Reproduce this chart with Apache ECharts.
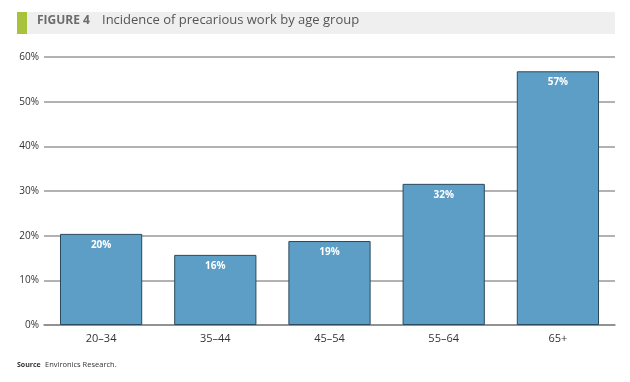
<!DOCTYPE html>
<html><head><meta charset="utf-8">
<script src="https://cdn.jsdelivr.net/npm/echarts@6/dist/echarts.min.js"></script>
<style>html,body{margin:0;padding:0;background:#fff}#c{width:630px;height:382px}</style>
</head><body><div id="c"></div>
<script>
var categories = ['20–34', '35–44', '45–54', '55–64', '65+'];
var values = [20.4, 15.7, 18.8, 31.6, 56.8];
var barLabels = ['20%', '16%', '19%', '32%', '57%'];
var yTicks = [0, 10, 20, 30, 40, 50, 60];

var F = '"Open Sans",sans-serif';
var chart = echarts.init(document.getElementById('c'));
chart.setOption({
  animation: false,
  grid: { left: 44, right: 15, top: 57, bottom: 57 },
  graphic: [
    { type: 'rect', shape: { x: 17, y: 12, width: 598, height: 22 }, style: { fill: '#efefef' } },
    { type: 'rect', shape: { x: 17, y: 12, width: 10, height: 22 }, style: { fill: '#a8c23c' } },
    { type: 'text', left: 37, top: 15, style: { text: 'FIGURE 4', font: 'bold 12px ' + F, fill: '#6b6b6b' } },
    { type: 'text', left: 102, top: 14, style: { text: 'Incidence of precarious work by age group', font: '13px ' + F, fill: '#555' } },
    { type: 'text', left: 17, top: 361, style: { text: 'Source', font: 'bold 7px ' + F, fill: '#333' } },
    { type: 'text', left: 45, top: 361, style: { text: 'Environics Research.', font: '7.5px ' + F, fill: '#333' } }
  ],
  xAxis: {
    type: 'category', data: categories,
    axisLine: { show: true, lineStyle: { color: '#888', width: 1.5 } },
    axisTick: { show: false },
    axisLabel: { color: '#333', fontSize: 11, fontFamily: F, margin: 8 }
  },
  yAxis: {
    type: 'value', min: yTicks[0], max: yTicks[yTicks.length - 1], interval: 10,
    axisLine: { show: false }, axisTick: { show: false },
    axisLabel: { formatter: '{value}%', color: '#333', fontSize: 10, fontFamily: F, margin: 5 },
    splitLine: { lineStyle: { color: '#999', width: 1.5 } }
  },
  series: [{
    type: 'bar', data: values, barWidth: '72%',
    itemStyle: { color: '#5d9ec6', borderColor: '#2b4a5d', borderWidth: 1 },
    label: {
      show: true, position: 'insideTop', distance: 6,
      formatter: function (p) { return barLabels[p.dataIndex]; },
      color: '#fff', fontSize: 10, fontWeight: 'bold', fontFamily: F
    }
  }]
});
</script></body></html>
